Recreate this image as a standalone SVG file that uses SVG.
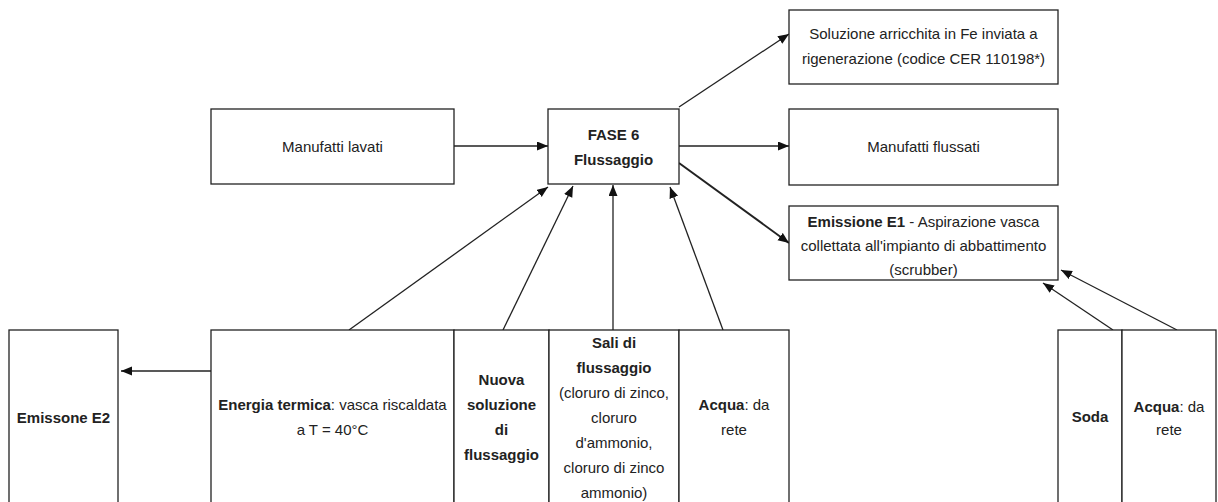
<svg xmlns="http://www.w3.org/2000/svg" width="1218" height="502" viewBox="0 0 1218 502">
  <style>
    .box { fill: #ffffff; stroke: #222222; stroke-width: 1.3; }
    .lbl { font-family: "Liberation Sans", Arial, sans-serif; font-size: 15px; fill: #222222; text-anchor: middle; }
    .b { font-weight: bold; }
    .wire { stroke: #222222; stroke-width: 1.3; fill: none; marker-end: url(#head); }
    .wire.heavy { stroke-width: 2; }
  </style>
  <defs>
    <marker id="head" markerUnits="userSpaceOnUse" markerWidth="12" markerHeight="10" refX="11" refY="4.5" orient="auto">
      <path d="M0,0 L11,4.5 L0,9 z" fill="#111111"/>
    </marker>
  </defs>
  <rect width="1218" height="502" fill="#ffffff"/>

  <!-- connectors -->
  <g id="connectors">
    <line class="wire" x1="454" y1="146" x2="548" y2="146"/>
    <line class="wire" x1="679" y1="146" x2="789" y2="146"/>
    <line class="wire" x1="679" y1="107" x2="789" y2="34"/>
    <line class="wire heavy" x1="679" y1="163" x2="789" y2="243"/>
    <line class="wire" x1="211" y1="371" x2="121" y2="371"/>
    <line class="wire" x1="349" y1="330" x2="548" y2="187"/>
    <line class="wire" x1="503" y1="330" x2="573" y2="186"/>
    <line class="wire" x1="613" y1="330" x2="613" y2="185"/>
    <line class="wire" x1="723" y1="330" x2="670" y2="187"/>
    <line class="wire" x1="1113" y1="330" x2="1043" y2="283"/>
    <line class="wire" x1="1177" y1="330" x2="1061" y2="270"/>
  </g>

  <g id="manufatti-lavati">
    <rect class="box" x="211" y="109" width="243" height="75"/>
    <text class="lbl" x="332.5" y="152">Manufatti lavati</text>
  </g>

  <g id="fase6">
    <rect class="box" x="548" y="109" width="131" height="75"/>
    <text class="lbl b" x="613.5" y="140">FASE 6</text>
    <text class="lbl b" x="613.5" y="165">Flussaggio</text>
  </g>

  <g id="soluzione-fe">
    <rect class="box" x="789" y="10" width="269" height="74"/>
    <text class="lbl" x="923.5" y="39">Soluzione arricchita in Fe inviata a</text>
    <text class="lbl" x="923.5" y="64">rigenerazione (codice CER 110198*)</text>
  </g>

  <g id="manufatti-flussati">
    <rect class="box" x="789" y="109" width="269" height="76"/>
    <text class="lbl" x="923.5" y="152">Manufatti flussati</text>
  </g>

  <g id="emissione-e1">
    <rect class="box" x="789" y="206" width="269" height="74"/>
    <text class="lbl" x="923.5" y="227"><tspan class="b">Emissione E1</tspan> - Aspirazione vasca</text>
    <text class="lbl" x="923.5" y="251">collettata all'impianto di abbattimento</text>
    <text class="lbl" x="923.5" y="275">(scrubber)</text>
  </g>

  <g id="emissione-e2">
    <rect class="box" x="9" y="330" width="109" height="190"/>
    <text class="lbl b" x="63.5" y="423">Emissone E2</text>
  </g>

  <g id="energia-termica">
    <rect class="box" x="211" y="330" width="243" height="190"/>
    <text class="lbl" x="332.5" y="410"><tspan class="b">Energia termica</tspan>: vasca riscaldata</text>
    <text class="lbl" x="332.5" y="435">a T = 40°C</text>
  </g>

  <g id="nuova-soluzione">
    <rect class="box" x="454" y="330" width="95" height="190"/>
    <text class="lbl b" x="501.5" y="385">Nuova</text>
    <text class="lbl b" x="501.5" y="410">soluzione</text>
    <text class="lbl b" x="501.5" y="435">di</text>
    <text class="lbl b" x="501.5" y="460">flussaggio</text>
  </g>

  <g id="sali-flussaggio">
    <rect class="box" x="549" y="330" width="130" height="190"/>
    <text class="lbl b" x="614" y="348">Sali di</text>
    <text class="lbl b" x="614" y="373">flussaggio</text>
    <text class="lbl" x="614" y="398">(cloruro di zinco,</text>
    <text class="lbl" x="614" y="423">cloruro</text>
    <text class="lbl" x="614" y="448">d'ammonio,</text>
    <text class="lbl" x="614" y="473">cloruro di zinco</text>
    <text class="lbl" x="614" y="498">ammonio)</text>
  </g>

  <g id="acqua-rete">
    <rect class="box" x="679" y="330" width="110" height="190"/>
    <text class="lbl" x="734" y="410"><tspan class="b">Acqua</tspan>: da</text>
    <text class="lbl" x="734" y="435">rete</text>
  </g>

  <g id="soda">
    <rect class="box" x="1058" y="330" width="64" height="190"/>
    <text class="lbl b" x="1090" y="422">Soda</text>
  </g>

  <g id="acqua-rete-scrubber">
    <rect class="box" x="1122" y="330" width="94" height="190"/>
    <text class="lbl" x="1169" y="412"><tspan class="b">Acqua</tspan>: da</text>
    <text class="lbl" x="1169" y="435">rete</text>
  </g>
</svg>
